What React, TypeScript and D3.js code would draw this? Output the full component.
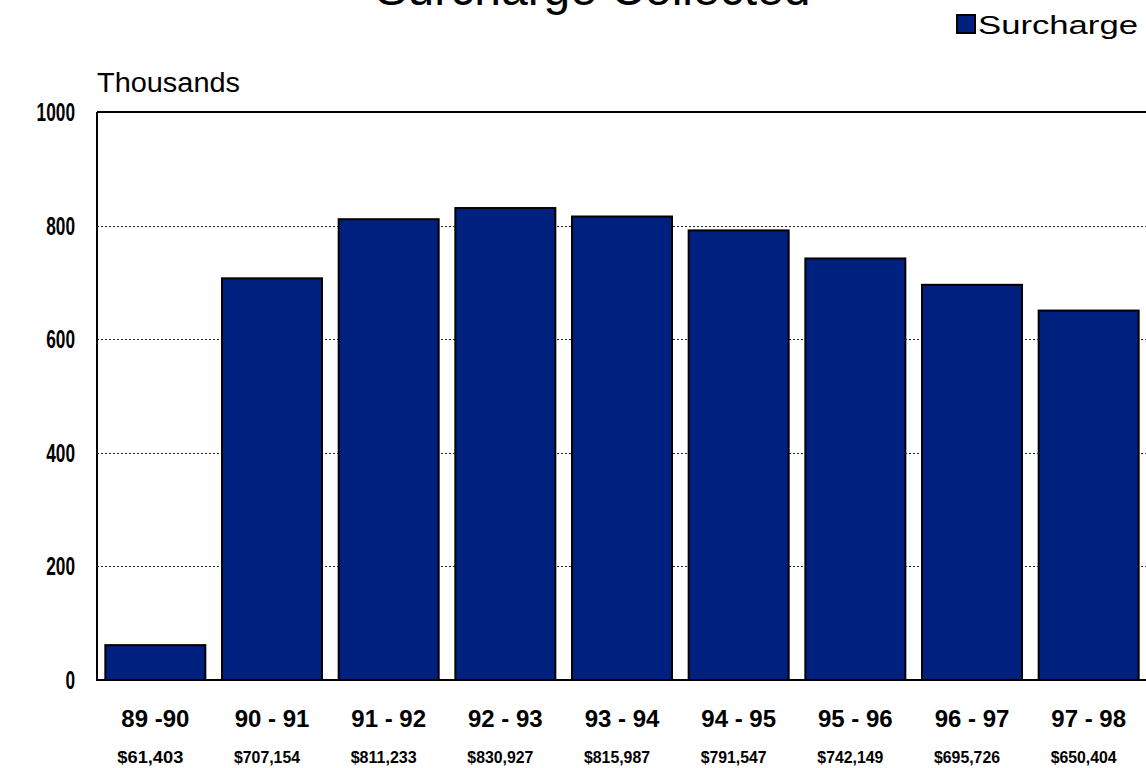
import React from "react";
import * as d3 from "d3";

const categories = ["89 -90", "90 - 91", "91 - 92", "92 - 93", "93 - 94", "94 - 95", "95 - 96", "96 - 97", "97 - 98"];
const amounts = [61403, 707154, 811233, 830927, 815987, 791547, 742149, 695726, 650404];
const amountLabels = ["$61,403", "$707,154", "$811,233", "$830,927", "$815,987", "$791,547", "$742,149", "$695,726", "$650,404"];
const yTicks = [0, 200, 400, 600, 800, 1000];
const seriesName = "Surcharge";
const titleText = "Surcharge Collected";
const unitLabel = "Thousands";

const W = 1146;
const H = 768;
const left = 97;
const right = 1147;
const top = 112;
const bottom = 680;
const barColor = "#002080";
const font = "'Liberation Sans', Arial, Helvetica, sans-serif";

export default function App() {
  const x = d3.scaleBand<string>().domain(categories).range([left, right]).paddingInner(1 / 7).paddingOuter(1 / 14);
  const y = d3.scaleLinear().domain([0, 1000]).range([bottom, top]);

  return (
    <svg width={W} height={H} style={{ position: "absolute", left: 0, top: 0, background: "#fff" }} fontFamily={font}>
      <rect x={0} y={0} width={W} height={H} fill="#fff" />
      <text x={593} y={5} textAnchor="middle" fontSize={48} fill="#000">{titleText}</text>

      {/* legend */}
      <rect x={957} y={15} width={18} height={18} fill={barColor} stroke="#000" strokeWidth={2} />
      <text x={978} y={34} fontSize={26} fill="#000" textLength={160} lengthAdjust="spacingAndGlyphs">{seriesName}</text>

      <text x={97} y={92} fontSize={27} fill="#000" textLength={143} lengthAdjust="spacingAndGlyphs">{unitLabel}</text>

      {/* gridlines */}
      {yTicks.filter((t) => t !== 0 && t !== 1000).map((t) => (
        <line key={t} x1={left} x2={W} y1={Math.round(y(t)) + 0.5} y2={Math.round(y(t)) + 0.5} stroke="#222" strokeWidth={1} strokeDasharray="2,2" />
      ))}

      {/* bars */}
      {categories.map((c, i) => (
        <rect key={c} x={x(c)!} y={y(amounts[i] / 1000)} width={x.bandwidth()} height={bottom - y(amounts[i] / 1000)} fill={barColor} stroke="#000" strokeWidth={2} />
      ))}

      {/* frame */}
      <path d={`M${left},${top}H${W + 5}M${left},${top}V${bottom}H${W + 5}`} fill="none" stroke="#000" strokeWidth={2} />

      {/* y tick labels */}
      {yTicks.map((t) => (
        <text key={t} x={75} y={y(t) + 9} textAnchor="end" fontSize={25} fontWeight="bold" fill="#000" textLength={String(t).length * 9.6} lengthAdjust="spacingAndGlyphs">{t}</text>
      ))}

      {/* category labels */}
      {categories.map((c) => (
        <text key={c} x={x(c)! + x.bandwidth() / 2} y={727} textAnchor="middle" fontSize={24} fontWeight="bold" fill="#000">{c}</text>
      ))}

      {/* amount labels */}
      {categories.map((c, i) => (
        <text key={c + "a"} x={x(c)! + x.bandwidth() / 2 - 5} y={763} textAnchor="middle" fontSize={17} fontWeight="bold" fill="#000" textLength={66} lengthAdjust="spacingAndGlyphs">{amountLabels[i]}</text>
      ))}
    </svg>
  );
}
